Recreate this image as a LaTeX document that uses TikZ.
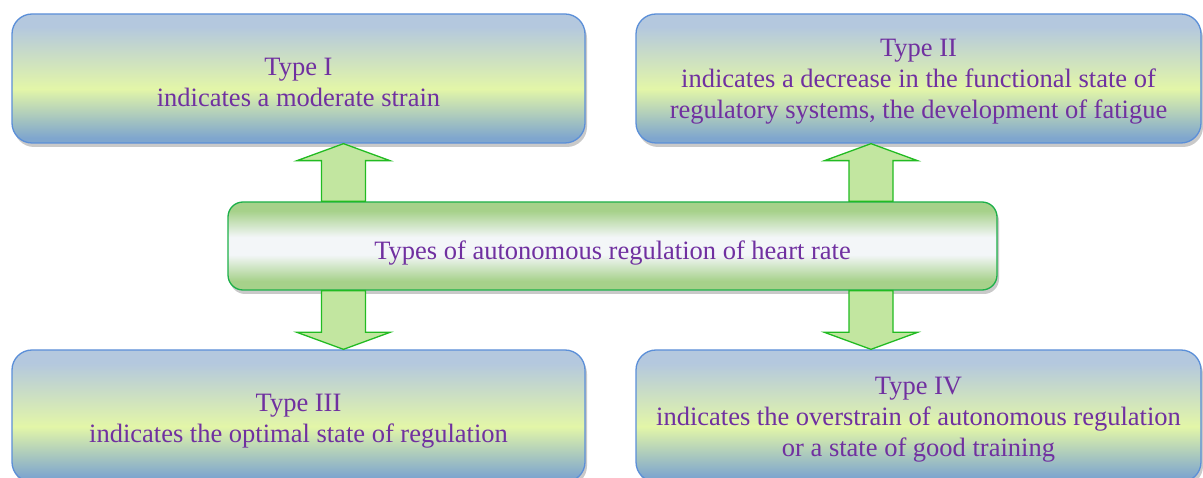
\documentclass[tikz,border=0pt]{standalone}
\usepackage{fontspec}
\setmainfont{Liberation Serif}
\newfontfamily\tnr{Liberation Serif}
\usetikzlibrary{shadows,calc}
\definecolor{txt}{HTML}{7030A0}
\definecolor{bedge}{HTML}{5B8FD8}
\definecolor{btop}{HTML}{B4C8DE}
\definecolor{bmid}{HTML}{E3F6A8}
\definecolor{bbot}{HTML}{7FA6CE}
\definecolor{gedge}{HTML}{1DB04A}
\definecolor{gtop}{HTML}{A6D18A}
\definecolor{gmid}{HTML}{F3F6F8}
\definecolor{afill}{HTML}{C2E6A0}
\definecolor{aedge}{HTML}{22BB22}
\pgfdeclareverticalshading{blueshade}{100bp}{color(0bp)=(bbot); color(27bp)=(bbot); color(46bp)=(bmid); color(70bp)=(btop); color(100bp)=(btop)}
\pgfdeclareverticalshading{greenshade}{100bp}{color(0bp)=(gtop); color(30bp)=(gtop); color(45bp)=(gmid); color(55bp)=(gmid); color(70bp)=(gtop); color(100bp)=(gtop)}
\tikzset{
  bluebox/.style={draw=bedge, line width=1.3pt, rounded corners=20pt, shading=blueshade,
    minimum width=573pt, minimum height=129pt, align=center, text=txt,
    font=\tnr\fontsize{26.5}{31}\selectfont,
    drop shadow={shadow xshift=2pt, shadow yshift=-4pt, opacity=0.3, fill=black!70}},
  greenbox/.style={draw=gedge, line width=1.3pt, rounded corners=15pt, shading=greenshade,
    minimum width=769pt, minimum height=88pt, align=center, text=txt,
    font=\tnr\fontsize{26.5}{31}\selectfont,
    drop shadow={shadow xshift=2pt, shadow yshift=-4pt, opacity=0.3, fill=black!70}},
  fatarrow/.style={draw=aedge, fill=afill, line width=1.3pt, line join=miter}
}
\begin{document}
\begin{tikzpicture}[x=1pt,y=-1pt]
\useasboundingbox (0,0) rectangle (1203,478);
\node[bluebox] (t1) at (298.5,78.5) {\rule{0pt}{24.5pt}Type I\\indicates a moderate strain};
\node[bluebox, minimum width=565pt] (t2) at (918.5,78.5) {\rule{0pt}{24.5pt}Type II\\indicates a decrease in the functional state of\\regulatory systems, the development of fatigue};
\node[bluebox, minimum height=132pt] (b1) at (298.5,416) {\rule{0pt}{27.5pt}Type III\\indicates the optimal state of regulation};
\node[bluebox, minimum width=565pt, minimum height=132pt] (b2) at (918.5,416) {\rule{0pt}{25.5pt}Type IV\\indicates the overstrain of autonomous regulation\\or a state of good training};
\node[greenbox] (c) at (612.5,246) {\rule{0pt}{32pt}Types of autonomous regulation of heart rate};
\coordinate (ax1) at (343.5,0);
\coordinate (ax2) at (871,0);
\foreach \a/\t/\b in {ax1/t1/b1, ax2/t2/b2}{
  \draw[fatarrow] (\a |- \t.south) -- ++(46.5,17) -- ++(-24.5,0) -- ($(\a |- c.north)+(22,0)$)
    -- ($(\a |- c.north)+(-22,0)$) -- ($(\a |- \t.south)+(-22,17)$) -- ++(-24.5,0) -- cycle;
  \draw[fatarrow] (\a |- \b.north) -- ++(46.5,-17) -- ++(-24.5,0) -- ($(\a |- c.south)+(22,0)$)
    -- ($(\a |- c.south)+(-22,0)$) -- ($(\a |- \b.north)+(-22,-17)$) -- ++(-24.5,0) -- cycle;
}
\end{tikzpicture}
\end{document}
